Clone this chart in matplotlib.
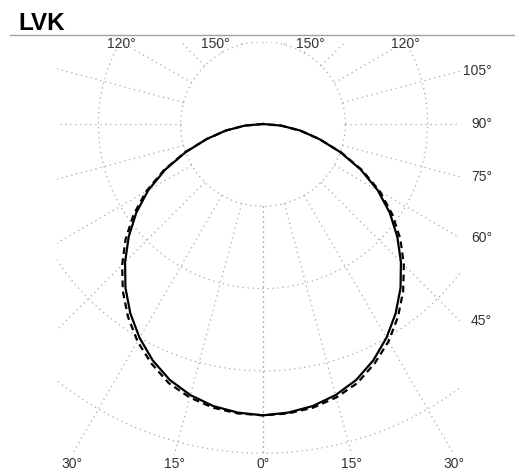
import numpy as np
import matplotlib
matplotlib.use("Agg")
import matplotlib.pyplot as plt
from matplotlib.lines import Line2D

plt.rcParams['font.family'] = ['Liberation Sans', 'DejaVu Sans']

# luminous intensity (gamma in degrees from nadir)
gamma = [0, 5, 10, 15, 20, 25, 30, 35, 40, 45, 50, 55, 60, 65, 70, 75, 80, 85, 90]
i_c0_c180 = [354, 352, 348, 341, 331, 317, 300, 281, 260, 237, 213, 188, 161, 131, 100, 71, 46, 22, 0]
i_c90_c270 = [354, 353, 350, 344, 335, 321, 305, 286, 265, 242, 218, 192, 164, 133, 101, 71, 46, 22, 0]

rings = [100, 200, 300, 400]
spokes = [0, 15, 30, 45, 60, 75, 90, 105, 120, 135, 150, 165, 180]
bottom_labels = [0, 15, 30]
right_labels = [45, 60, 75, 90, 105]
top_labels = [120, 150]

W, H = 515, 471
scale = 0.823          # pixels per cd unit
cx, cy = 263, 124      # pole position in pixels
left_px, right_px, top_px, bot_px = 57, 460, 42, 455

fig = plt.figure(figsize=(W / 100, H / 100), dpi=100)
ax = fig.add_axes([left_px / W, 1 - bot_px / H, (right_px - left_px) / W, (bot_px - top_px) / H])
x0, x1 = (left_px - cx) / scale, (right_px - cx) / scale
y0, y1 = -(bot_px - cy) / scale, (cy - top_px) / scale
ax.set_xlim(x0, x1)
ax.set_ylim(y0, y1)
ax.set_aspect('equal')
ax.axis('off')

grid_kw = dict(color='#a8a8a8', lw=0.9, linestyle=(0, (1, 3)), zorder=1)

# rings
t = np.linspace(0, 2 * np.pi, 400)
for r in rings:
    ax.plot(r * np.cos(t), r * np.sin(t), **grid_kw)

# spokes, starting at the first ring
for a in spokes:
    g = np.radians(a)
    for s in (1, -1):
        ax.plot([s * rings[0] * np.sin(g), s * 800 * np.sin(g)],
                [-rings[0] * np.cos(g), -800 * np.cos(g)], **grid_kw)

# curves
g = np.radians(gamma)
for vals, ls in ((i_c90_c270, (0, (3, 2))), (i_c0_c180, '-')):
    v = np.array(vals, dtype=float)
    xs = np.concatenate([-(v * np.sin(g))[::-1], v * np.sin(g)])
    ys = np.concatenate([-(v * np.cos(g))[::-1], -v * np.cos(g)])
    ax.plot(xs, ys, color='black', lw=1.6, linestyle=ls, zorder=3,
            solid_joinstyle='round', dash_joinstyle='round')

lab_kw = dict(fontsize=10, color='#333333', clip_on=False)

for a in bottom_labels:
    xx = -y0 * np.tan(np.radians(a))
    for s in ((1, -1) if a else (1,)):
        ax.text(s * xx, y0 - 2 / scale, f'{a}°', ha='center', va='top', **lab_kw)

for a in right_labels:
    g = np.radians(a)
    yy = -x1 * np.cos(g) / np.sin(g)
    ax.text((492 - cx) / scale, yy, f'{a}°', ha='right', va='center', **lab_kw)

for a in top_labels:
    g = np.radians(a)
    xx = y1 * np.sin(g) / -np.cos(g)
    for s in (1, -1):
        ax.text(s * xx, y1 - 2 / scale, f'{a}°', ha='center', va='center', **lab_kw)

fig.text(18 / W, 1 - 30 / H, 'LVK', fontsize=17.5, fontweight='bold', va='baseline', ha='left')
fig.add_artist(Line2D([10 / W, 1], [1 - 34.5 / H] * 2, color='#a0a0a0', lw=1))

fig.savefig('out.png', dpi=100)
